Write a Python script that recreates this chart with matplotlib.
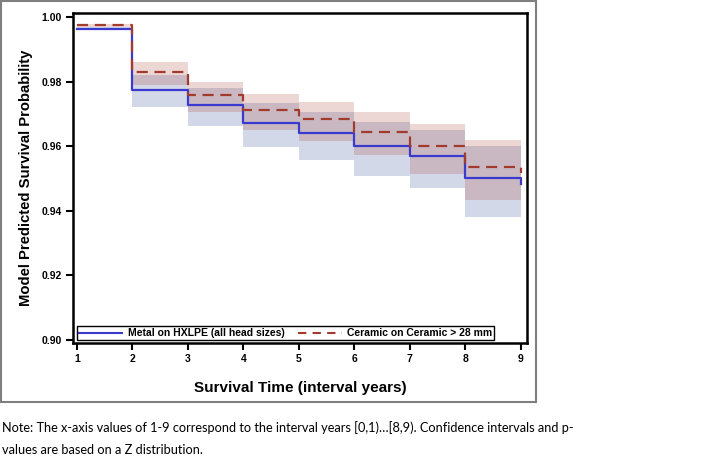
import matplotlib
matplotlib.use("Agg")
import matplotlib.pyplot as plt
import numpy as np
from matplotlib.patches import Rectangle
from matplotlib.lines import Line2D

# ---- data ----
years = [1, 2, 3, 4, 5, 6, 7, 8, 9]
metal_surv = [0.9964, 0.9775, 0.9727, 0.9672, 0.9640, 0.9600, 0.9570, 0.9501, 0.9483]
ceramic_surv = [0.9974, 0.9829, 0.9758, 0.9712, 0.9684, 0.9645, 0.9599, 0.9534, 0.9517]
# confidence bands per interval [x, x+1)
metal_lo = [0.9958, 0.9722, 0.9663, 0.9597, 0.9558, 0.9508, 0.9470, 0.9381]
metal_hi = [0.9970, 0.9821, 0.9780, 0.9733, 0.9707, 0.9676, 0.9649, 0.9599]
ceramic_lo = [0.9969, 0.9790, 0.9707, 0.9651, 0.9617, 0.9573, 0.9515, 0.9432]
ceramic_hi = [0.9979, 0.9860, 0.9800, 0.9761, 0.9736, 0.9705, 0.9669, 0.9620]

labels = ["Metal on HXLPE (all head sizes)", "Ceramic on Ceramic > 28 mm"]
xticks = [1, 2, 3, 4, 5, 6, 7, 8, 9]
yticks = [0.90, 0.92, 0.94, 0.96, 0.98, 1.00]

BLUE = "#3A3ACF"
RED = "#A23A2E"
BLUE_BAND = "#6F7EB3"
RED_BAND = "#A23A2E"

plt.rcParams['font.family'] = ['Liberation Sans', 'DejaVu Sans']

fig = plt.figure(figsize=(7.15, 4.57), dpi=100)
W, H = 715, 457

# outer frame
fig.patches.append(Rectangle((1 / W, 1 - 402 / H), 535 / W, 401 / H,
                             transform=fig.transFigure, fill=False,
                             edgecolor="#7f7f7f", linewidth=1.5))

ax = fig.add_axes([73 / W, 1 - 343 / H, (527 - 73) / W, (343 - 13) / H])

x = np.array(years, dtype=float)
ax.fill_between(x, np.append(metal_lo, metal_lo[-1]), np.append(metal_hi, metal_hi[-1]),
                step="post", color=BLUE_BAND, alpha=0.3, linewidth=0)
ax.fill_between(x, np.append(ceramic_lo, ceramic_lo[-1]), np.append(ceramic_hi, ceramic_hi[-1]),
                step="post", color=RED_BAND, alpha=0.2, linewidth=0)
ax.plot(x, metal_surv, drawstyle="steps-post", color=BLUE, linewidth=1.6)
ax.plot(x, ceramic_surv, drawstyle="steps-post", color=RED, linewidth=1.6,
        dashes=(5, 3))

ax.set_xlim(0.93, 9.11)
ax.set_ylim(0.8991, 1.0012)
ax.set_xticks(xticks)
ax.set_xticklabels([str(v) for v in xticks])
ax.set_yticks(yticks)
ax.set_yticklabels([f"{v:.2f}" for v in yticks])
for s in ax.spines.values():
    s.set_linewidth(1.8)
    s.set_color("black")
ax.tick_params(axis="both", direction="out", length=5, width=1.5, labelsize=7.5, pad=3)
for lab in ax.get_xticklabels() + ax.get_yticklabels():
    lab.set_fontweight("bold")

ax.set_xlabel("Survival Time (interval years)", fontsize=11, fontweight="bold", labelpad=12)
ax.set_ylabel("Model Predicted Survival Probability", fontsize=10.7, fontweight="bold", labelpad=6)

handles = [Line2D([], [], color=BLUE, linewidth=1.5),
           Line2D([], [], color=RED, linewidth=1.5, dashes=(4, 3))]
leg = ax.legend(handles, labels, loc="lower left", bbox_to_anchor=(0.008, 0.008),
                ncol=2, prop={"weight": "bold", "size": 7.5},
                frameon=True, fancybox=False, edgecolor="black", framealpha=1,
                borderpad=0.2, handlelength=4.2, handletextpad=0.5, columnspacing=1.3,
                borderaxespad=0)
leg.get_frame().set_linewidth(1.0)

note = ("Note: The x-axis values of 1-9 correspond to the interval years [0,1)\u2026[8,9). "
        "Confidence intervals and p-\nvalues are based on a Z distribution.")
fig.text(2 / W, 1 - 421 / H, note, fontsize=9.2, family=["Lato", "DejaVu Sans"],
         va="top", ha="left", linespacing=2.0)

fig.savefig("out.png", dpi=100)
